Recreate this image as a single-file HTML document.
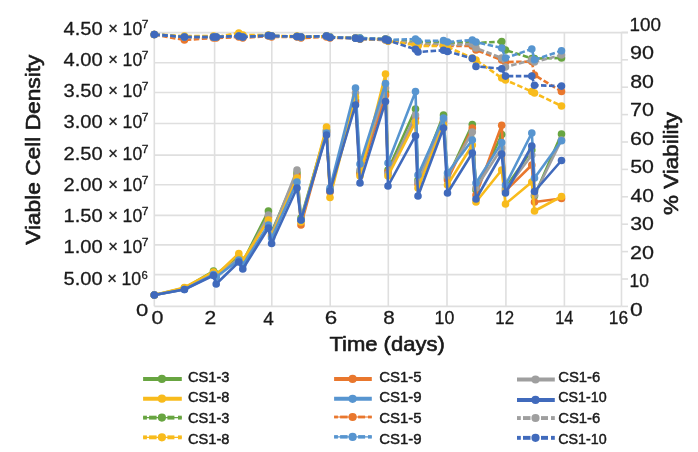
<!DOCTYPE html><html><head><meta charset="utf-8"><style>html,body{margin:0;padding:0;background:#fff;width:698px;height:452px;overflow:hidden}svg{display:block}</style></head><body>
<svg width="698" height="452" viewBox="0 0 698 452">
<rect width="698" height="452" fill="#fff"/>
<g stroke="#dfdfdf" stroke-width="1.6" fill="none">
<line x1="154.3" y1="32.6" x2="628" y2="32.6"/>
<line x1="154.3" y1="62.8" x2="621.5" y2="62.8"/>
<line x1="154.3" y1="92.5" x2="621.5" y2="92.5"/>
<line x1="154.3" y1="123.5" x2="621.5" y2="123.5"/>
<line x1="154.3" y1="155.1" x2="621.5" y2="155.1"/>
<line x1="154.3" y1="184.7" x2="621.5" y2="184.7"/>
<line x1="154.3" y1="215.4" x2="621.5" y2="215.4"/>
<line x1="154.3" y1="244.9" x2="621.5" y2="244.9"/>
<line x1="154.3" y1="274.6" x2="621.5" y2="274.6"/>
<line x1="154.3" y1="306.4" x2="621.5" y2="306.4"/>
<line x1="154.3" y1="32.5" x2="154.3" y2="306.3"/>
<line x1="214.6" y1="32.5" x2="214.6" y2="306.3"/>
<line x1="271.8" y1="32.5" x2="271.8" y2="306.3"/>
<line x1="330.2" y1="32.5" x2="330.2" y2="306.3"/>
<line x1="388.3" y1="32.5" x2="388.3" y2="306.3"/>
<line x1="447" y1="32.5" x2="447" y2="306.3"/>
<line x1="505.9" y1="32.5" x2="505.9" y2="306.3"/>
<line x1="564.4" y1="32.5" x2="564.4" y2="306.3"/>
<line x1="621.5" y1="32.5" x2="621.5" y2="306.3"/>
<line x1="621.5" y1="306.4" x2="628" y2="306.4" stroke="#dedede"/>
<line x1="621.5" y1="279" x2="628" y2="279" stroke="#dedede"/>
<line x1="621.5" y1="251.6" x2="628" y2="251.6" stroke="#dedede"/>
<line x1="621.5" y1="224.2" x2="628" y2="224.2" stroke="#dedede"/>
<line x1="621.5" y1="196.8" x2="628" y2="196.8" stroke="#dedede"/>
<line x1="621.5" y1="169.4" x2="628" y2="169.4" stroke="#dedede"/>
<line x1="621.5" y1="142" x2="628" y2="142" stroke="#dedede"/>
<line x1="621.5" y1="114.6" x2="628" y2="114.6" stroke="#dedede"/>
<line x1="621.5" y1="87.2" x2="628" y2="87.2" stroke="#dedede"/>
<line x1="621.5" y1="59.8" x2="628" y2="59.8" stroke="#dedede"/>
<line x1="621.5" y1="32.4" x2="628" y2="32.4" stroke="#dedede"/>
</g>
<polyline points="154.3,295 184.4,288 213.5,271 216.2,274 238.8,257 242.8,262 268.4,211 271.6,232 297,173 301,218 326.5,130 330,190 355.5,100 360,172 385.5,92 388,170 415.5,109 418,180 443.5,115 447.5,178 472.3,124.5 476,190 501.7,134.5 505.5,188 531.8,150 534.5,196 561.5,134" fill="none" stroke="#68A541" stroke-width="2.6" stroke-linejoin="round"/><g fill="#68A541"><circle cx="154.3" cy="295" r="3.8"/><circle cx="184.4" cy="288" r="3.8"/><circle cx="213.5" cy="271" r="3.8"/><circle cx="216.2" cy="274" r="3.8"/><circle cx="238.8" cy="257" r="3.8"/><circle cx="242.8" cy="262" r="3.8"/><circle cx="268.4" cy="211" r="3.8"/><circle cx="271.6" cy="232" r="3.8"/><circle cx="297" cy="173" r="3.8"/><circle cx="301" cy="218" r="3.8"/><circle cx="326.5" cy="130" r="3.8"/><circle cx="330" cy="190" r="3.8"/><circle cx="355.5" cy="100" r="3.8"/><circle cx="360" cy="172" r="3.8"/><circle cx="385.5" cy="92" r="3.8"/><circle cx="388" cy="170" r="3.8"/><circle cx="415.5" cy="109" r="3.8"/><circle cx="418" cy="180" r="3.8"/><circle cx="443.5" cy="115" r="3.8"/><circle cx="447.5" cy="178" r="3.8"/><circle cx="472.3" cy="124.5" r="3.8"/><circle cx="476" cy="190" r="3.8"/><circle cx="501.7" cy="134.5" r="3.8"/><circle cx="505.5" cy="188" r="3.8"/><circle cx="531.8" cy="150" r="3.8"/><circle cx="534.5" cy="196" r="3.8"/><circle cx="561.5" cy="134" r="3.8"/></g>
<polyline points="154.3,295 184.4,289 213.5,274 216.2,276 238.8,259 242.8,263 268.4,217 271.6,236 297,176 301,225 326.5,132 330,192 355.5,102 360,174 385.5,95 388,172 415.5,118 418,184 443.5,122 447.5,180 472.3,128 476,195 501.7,125.3 505.5,191 531.8,165 534.5,202 561.5,198.5" fill="none" stroke="#E9772D" stroke-width="2.6" stroke-linejoin="round"/><g fill="#E9772D"><circle cx="154.3" cy="295" r="3.8"/><circle cx="184.4" cy="289" r="3.8"/><circle cx="213.5" cy="274" r="3.8"/><circle cx="216.2" cy="276" r="3.8"/><circle cx="238.8" cy="259" r="3.8"/><circle cx="242.8" cy="263" r="3.8"/><circle cx="268.4" cy="217" r="3.8"/><circle cx="271.6" cy="236" r="3.8"/><circle cx="297" cy="176" r="3.8"/><circle cx="301" cy="225" r="3.8"/><circle cx="326.5" cy="132" r="3.8"/><circle cx="330" cy="192" r="3.8"/><circle cx="355.5" cy="102" r="3.8"/><circle cx="360" cy="174" r="3.8"/><circle cx="385.5" cy="95" r="3.8"/><circle cx="388" cy="172" r="3.8"/><circle cx="415.5" cy="118" r="3.8"/><circle cx="418" cy="184" r="3.8"/><circle cx="443.5" cy="122" r="3.8"/><circle cx="447.5" cy="180" r="3.8"/><circle cx="472.3" cy="128" r="3.8"/><circle cx="476" cy="195" r="3.8"/><circle cx="501.7" cy="125.3" r="3.8"/><circle cx="505.5" cy="191" r="3.8"/><circle cx="531.8" cy="165" r="3.8"/><circle cx="534.5" cy="202" r="3.8"/><circle cx="561.5" cy="198.5" r="3.8"/></g>
<polyline points="154.3,295 184.4,289 213.5,273 216.2,275 238.8,259 242.8,263 268.4,215 271.6,234 297,170 301,220 326.5,131 330,190 355.5,93 360,170 385.5,88 388,174 415.5,115 418,182 443.5,120 447.5,176 472.3,132 476,188 501.7,148 505.5,190 531.8,155 534.5,195 561.5,140" fill="none" stroke="#9F9F9F" stroke-width="2.6" stroke-linejoin="round"/><g fill="#9F9F9F"><circle cx="154.3" cy="295" r="3.8"/><circle cx="184.4" cy="289" r="3.8"/><circle cx="213.5" cy="273" r="3.8"/><circle cx="216.2" cy="275" r="3.8"/><circle cx="238.8" cy="259" r="3.8"/><circle cx="242.8" cy="263" r="3.8"/><circle cx="268.4" cy="215" r="3.8"/><circle cx="271.6" cy="234" r="3.8"/><circle cx="297" cy="170" r="3.8"/><circle cx="301" cy="220" r="3.8"/><circle cx="326.5" cy="131" r="3.8"/><circle cx="330" cy="190" r="3.8"/><circle cx="355.5" cy="93" r="3.8"/><circle cx="360" cy="170" r="3.8"/><circle cx="385.5" cy="88" r="3.8"/><circle cx="388" cy="174" r="3.8"/><circle cx="415.5" cy="115" r="3.8"/><circle cx="418" cy="182" r="3.8"/><circle cx="443.5" cy="120" r="3.8"/><circle cx="447.5" cy="176" r="3.8"/><circle cx="472.3" cy="132" r="3.8"/><circle cx="476" cy="188" r="3.8"/><circle cx="501.7" cy="148" r="3.8"/><circle cx="505.5" cy="190" r="3.8"/><circle cx="531.8" cy="155" r="3.8"/><circle cx="534.5" cy="195" r="3.8"/><circle cx="561.5" cy="140" r="3.8"/></g>
<polyline points="154.3,295 184.4,287.5 213.5,272 216.2,275 238.8,253.5 242.8,260 268.4,220 271.6,236 297,178 301,222 326.5,127 330,197.5 355.5,97 360,176 385.5,74 388,176 415.5,122 418,188 443.5,125 447.5,185 472.3,145 476,202 501.7,170 505.5,204 531.8,182 534.5,211 561.5,196.5" fill="none" stroke="#F8BB1C" stroke-width="2.6" stroke-linejoin="round"/><g fill="#F8BB1C"><circle cx="154.3" cy="295" r="3.8"/><circle cx="184.4" cy="287.5" r="3.8"/><circle cx="213.5" cy="272" r="3.8"/><circle cx="216.2" cy="275" r="3.8"/><circle cx="238.8" cy="253.5" r="3.8"/><circle cx="242.8" cy="260" r="3.8"/><circle cx="268.4" cy="220" r="3.8"/><circle cx="271.6" cy="236" r="3.8"/><circle cx="297" cy="178" r="3.8"/><circle cx="301" cy="222" r="3.8"/><circle cx="326.5" cy="127" r="3.8"/><circle cx="330" cy="197.5" r="3.8"/><circle cx="355.5" cy="97" r="3.8"/><circle cx="360" cy="176" r="3.8"/><circle cx="385.5" cy="74" r="3.8"/><circle cx="388" cy="176" r="3.8"/><circle cx="415.5" cy="122" r="3.8"/><circle cx="418" cy="188" r="3.8"/><circle cx="443.5" cy="125" r="3.8"/><circle cx="447.5" cy="185" r="3.8"/><circle cx="472.3" cy="145" r="3.8"/><circle cx="476" cy="202" r="3.8"/><circle cx="501.7" cy="170" r="3.8"/><circle cx="505.5" cy="204" r="3.8"/><circle cx="531.8" cy="182" r="3.8"/><circle cx="534.5" cy="211" r="3.8"/><circle cx="561.5" cy="196.5" r="3.8"/></g>
<polyline points="154.3,295 184.4,289.5 213.5,274.5 216.2,277 238.8,260 242.8,265 268.4,225 271.6,238 297,182 301,220 326.5,133 330,188 355.5,88 360,164 385.5,83.5 388,163 415.5,91.6 418,175 443.5,118 447.5,173 472.3,140 476,183 501.7,142.6 505.5,185 531.8,133 534.5,178 561.5,140.8" fill="none" stroke="#5795D0" stroke-width="2.6" stroke-linejoin="round"/><g fill="#5795D0"><circle cx="154.3" cy="295" r="3.8"/><circle cx="184.4" cy="289.5" r="3.8"/><circle cx="213.5" cy="274.5" r="3.8"/><circle cx="216.2" cy="277" r="3.8"/><circle cx="238.8" cy="260" r="3.8"/><circle cx="242.8" cy="265" r="3.8"/><circle cx="268.4" cy="225" r="3.8"/><circle cx="271.6" cy="238" r="3.8"/><circle cx="297" cy="182" r="3.8"/><circle cx="301" cy="220" r="3.8"/><circle cx="326.5" cy="133" r="3.8"/><circle cx="330" cy="188" r="3.8"/><circle cx="355.5" cy="88" r="3.8"/><circle cx="360" cy="164" r="3.8"/><circle cx="385.5" cy="83.5" r="3.8"/><circle cx="388" cy="163" r="3.8"/><circle cx="415.5" cy="91.6" r="3.8"/><circle cx="418" cy="175" r="3.8"/><circle cx="443.5" cy="118" r="3.8"/><circle cx="447.5" cy="173" r="3.8"/><circle cx="472.3" cy="140" r="3.8"/><circle cx="476" cy="183" r="3.8"/><circle cx="501.7" cy="142.6" r="3.8"/><circle cx="505.5" cy="185" r="3.8"/><circle cx="531.8" cy="133" r="3.8"/><circle cx="534.5" cy="178" r="3.8"/><circle cx="561.5" cy="140.8" r="3.8"/></g>
<polyline points="154.3,295 184.4,289.5 213.5,275.5 216.2,284 238.8,262 242.8,269 268.4,228 271.6,243.5 297,188 301,220 326.5,135 330,191 355.5,105 360,183 385.5,101.5 388,186 415.5,135.7 418,196 443.5,128 447.5,193 472.3,153 476,199 501.7,154 505.5,193 531.8,146 534.5,191.5 561.5,160.5" fill="none" stroke="#406ABC" stroke-width="2.6" stroke-linejoin="round"/><g fill="#406ABC"><circle cx="154.3" cy="295" r="3.8"/><circle cx="184.4" cy="289.5" r="3.8"/><circle cx="213.5" cy="275.5" r="3.8"/><circle cx="216.2" cy="284" r="3.8"/><circle cx="238.8" cy="262" r="3.8"/><circle cx="242.8" cy="269" r="3.8"/><circle cx="268.4" cy="228" r="3.8"/><circle cx="271.6" cy="243.5" r="3.8"/><circle cx="297" cy="188" r="3.8"/><circle cx="301" cy="220" r="3.8"/><circle cx="326.5" cy="135" r="3.8"/><circle cx="330" cy="191" r="3.8"/><circle cx="355.5" cy="105" r="3.8"/><circle cx="360" cy="183" r="3.8"/><circle cx="385.5" cy="101.5" r="3.8"/><circle cx="388" cy="186" r="3.8"/><circle cx="415.5" cy="135.7" r="3.8"/><circle cx="418" cy="196" r="3.8"/><circle cx="443.5" cy="128" r="3.8"/><circle cx="447.5" cy="193" r="3.8"/><circle cx="472.3" cy="153" r="3.8"/><circle cx="476" cy="199" r="3.8"/><circle cx="501.7" cy="154" r="3.8"/><circle cx="505.5" cy="193" r="3.8"/><circle cx="531.8" cy="146" r="3.8"/><circle cx="534.5" cy="191.5" r="3.8"/><circle cx="561.5" cy="160.5" r="3.8"/></g>
<polyline points="154.3,34.5 184.4,37 213.5,37 216.2,37 238.8,36 242.8,37 268.4,35.5 271.6,36 297,36.5 301,37 326.5,36 330,37 355.5,38 360,38 385.5,39 388,40 415.5,42 418,42 443.5,42 447.5,43 472.3,42 476,43 501.7,41.6 505.5,50 531.8,58.5 534.5,58.5 561.5,58" fill="none" stroke="#68A541" stroke-width="2.6" stroke-linejoin="round" stroke-dasharray="5.5 2.5"/><g fill="#68A541"><circle cx="154.3" cy="34.5" r="3.8"/><circle cx="184.4" cy="37" r="3.8"/><circle cx="213.5" cy="37" r="3.8"/><circle cx="216.2" cy="37" r="3.8"/><circle cx="238.8" cy="36" r="3.8"/><circle cx="242.8" cy="37" r="3.8"/><circle cx="268.4" cy="35.5" r="3.8"/><circle cx="271.6" cy="36" r="3.8"/><circle cx="297" cy="36.5" r="3.8"/><circle cx="301" cy="37" r="3.8"/><circle cx="326.5" cy="36" r="3.8"/><circle cx="330" cy="37" r="3.8"/><circle cx="355.5" cy="38" r="3.8"/><circle cx="360" cy="38" r="3.8"/><circle cx="385.5" cy="39" r="3.8"/><circle cx="388" cy="40" r="3.8"/><circle cx="415.5" cy="42" r="3.8"/><circle cx="418" cy="42" r="3.8"/><circle cx="443.5" cy="42" r="3.8"/><circle cx="447.5" cy="43" r="3.8"/><circle cx="472.3" cy="42" r="3.8"/><circle cx="476" cy="43" r="3.8"/><circle cx="501.7" cy="41.6" r="3.8"/><circle cx="505.5" cy="50" r="3.8"/><circle cx="531.8" cy="58.5" r="3.8"/><circle cx="534.5" cy="58.5" r="3.8"/><circle cx="561.5" cy="58" r="3.8"/></g>
<polyline points="154.3,34.5 184.4,40 213.5,38 216.2,38 238.8,37 242.8,38 268.4,36 271.6,37 297,37 301,38 326.5,37 330,38 355.5,38 360,39 385.5,40 388,41 415.5,44 418,45 443.5,45 447.5,46 472.3,46 476,50 501.7,60 505.5,62 531.8,61.6 534.5,75 561.5,91.5" fill="none" stroke="#E9772D" stroke-width="2.6" stroke-linejoin="round" stroke-dasharray="5.5 2.5"/><g fill="#E9772D"><circle cx="154.3" cy="34.5" r="3.8"/><circle cx="184.4" cy="40" r="3.8"/><circle cx="213.5" cy="38" r="3.8"/><circle cx="216.2" cy="38" r="3.8"/><circle cx="238.8" cy="37" r="3.8"/><circle cx="242.8" cy="38" r="3.8"/><circle cx="268.4" cy="36" r="3.8"/><circle cx="271.6" cy="37" r="3.8"/><circle cx="297" cy="37" r="3.8"/><circle cx="301" cy="38" r="3.8"/><circle cx="326.5" cy="37" r="3.8"/><circle cx="330" cy="38" r="3.8"/><circle cx="355.5" cy="38" r="3.8"/><circle cx="360" cy="39" r="3.8"/><circle cx="385.5" cy="40" r="3.8"/><circle cx="388" cy="41" r="3.8"/><circle cx="415.5" cy="44" r="3.8"/><circle cx="418" cy="45" r="3.8"/><circle cx="443.5" cy="45" r="3.8"/><circle cx="447.5" cy="46" r="3.8"/><circle cx="472.3" cy="46" r="3.8"/><circle cx="476" cy="50" r="3.8"/><circle cx="501.7" cy="60" r="3.8"/><circle cx="505.5" cy="62" r="3.8"/><circle cx="531.8" cy="61.6" r="3.8"/><circle cx="534.5" cy="75" r="3.8"/><circle cx="561.5" cy="91.5" r="3.8"/></g>
<polyline points="154.3,34.5 184.4,37 213.5,37 216.2,37 238.8,35 242.8,36 268.4,35.5 271.6,36 297,36.5 301,37 326.5,36 330,37 355.5,38 360,39 385.5,40 388,41 415.5,43 418,44 443.5,44 447.5,45 472.3,44 476,48 501.7,58 505.5,67 531.8,60 534.5,62 561.5,55" fill="none" stroke="#9F9F9F" stroke-width="2.6" stroke-linejoin="round" stroke-dasharray="5.5 2.5"/><g fill="#9F9F9F"><circle cx="154.3" cy="34.5" r="3.8"/><circle cx="184.4" cy="37" r="3.8"/><circle cx="213.5" cy="37" r="3.8"/><circle cx="216.2" cy="37" r="3.8"/><circle cx="238.8" cy="35" r="3.8"/><circle cx="242.8" cy="36" r="3.8"/><circle cx="268.4" cy="35.5" r="3.8"/><circle cx="271.6" cy="36" r="3.8"/><circle cx="297" cy="36.5" r="3.8"/><circle cx="301" cy="37" r="3.8"/><circle cx="326.5" cy="36" r="3.8"/><circle cx="330" cy="37" r="3.8"/><circle cx="355.5" cy="38" r="3.8"/><circle cx="360" cy="39" r="3.8"/><circle cx="385.5" cy="40" r="3.8"/><circle cx="388" cy="41" r="3.8"/><circle cx="415.5" cy="43" r="3.8"/><circle cx="418" cy="44" r="3.8"/><circle cx="443.5" cy="44" r="3.8"/><circle cx="447.5" cy="45" r="3.8"/><circle cx="472.3" cy="44" r="3.8"/><circle cx="476" cy="48" r="3.8"/><circle cx="501.7" cy="58" r="3.8"/><circle cx="505.5" cy="67" r="3.8"/><circle cx="531.8" cy="60" r="3.8"/><circle cx="534.5" cy="62" r="3.8"/><circle cx="561.5" cy="55" r="3.8"/></g>
<polyline points="154.3,34.5 184.4,36 213.5,36 216.2,37 238.8,33 242.8,35 268.4,35 271.6,36 297,36 301,37 326.5,36 330,37 355.5,38 360,39 385.5,39 388,41 415.5,45 418,46 443.5,46 447.5,47 472.3,58 476,60 501.7,78 505.5,80 531.8,91.5 534.5,93 561.5,106" fill="none" stroke="#F8BB1C" stroke-width="2.6" stroke-linejoin="round" stroke-dasharray="5.5 2.5"/><g fill="#F8BB1C"><circle cx="154.3" cy="34.5" r="3.8"/><circle cx="184.4" cy="36" r="3.8"/><circle cx="213.5" cy="36" r="3.8"/><circle cx="216.2" cy="37" r="3.8"/><circle cx="238.8" cy="33" r="3.8"/><circle cx="242.8" cy="35" r="3.8"/><circle cx="268.4" cy="35" r="3.8"/><circle cx="271.6" cy="36" r="3.8"/><circle cx="297" cy="36" r="3.8"/><circle cx="301" cy="37" r="3.8"/><circle cx="326.5" cy="36" r="3.8"/><circle cx="330" cy="37" r="3.8"/><circle cx="355.5" cy="38" r="3.8"/><circle cx="360" cy="39" r="3.8"/><circle cx="385.5" cy="39" r="3.8"/><circle cx="388" cy="41" r="3.8"/><circle cx="415.5" cy="45" r="3.8"/><circle cx="418" cy="46" r="3.8"/><circle cx="443.5" cy="46" r="3.8"/><circle cx="447.5" cy="47" r="3.8"/><circle cx="472.3" cy="58" r="3.8"/><circle cx="476" cy="60" r="3.8"/><circle cx="501.7" cy="78" r="3.8"/><circle cx="505.5" cy="80" r="3.8"/><circle cx="531.8" cy="91.5" r="3.8"/><circle cx="534.5" cy="93" r="3.8"/><circle cx="561.5" cy="106" r="3.8"/></g>
<polyline points="154.3,34.5 184.4,37 213.5,37 216.2,37 238.8,36 242.8,37 268.4,35.5 271.6,36 297,36.5 301,37 326.5,36 330,37 355.5,38 360,38 385.5,39 388,40 415.5,39 418,41 443.5,40.6 447.5,42 472.3,40 476,42 501.7,48 505.5,58 531.8,49 534.5,59.8 561.5,50.7" fill="none" stroke="#5795D0" stroke-width="2.6" stroke-linejoin="round" stroke-dasharray="5.5 2.5"/><g fill="#5795D0"><circle cx="154.3" cy="34.5" r="3.8"/><circle cx="184.4" cy="37" r="3.8"/><circle cx="213.5" cy="37" r="3.8"/><circle cx="216.2" cy="37" r="3.8"/><circle cx="238.8" cy="36" r="3.8"/><circle cx="242.8" cy="37" r="3.8"/><circle cx="268.4" cy="35.5" r="3.8"/><circle cx="271.6" cy="36" r="3.8"/><circle cx="297" cy="36.5" r="3.8"/><circle cx="301" cy="37" r="3.8"/><circle cx="326.5" cy="36" r="3.8"/><circle cx="330" cy="37" r="3.8"/><circle cx="355.5" cy="38" r="3.8"/><circle cx="360" cy="38" r="3.8"/><circle cx="385.5" cy="39" r="3.8"/><circle cx="388" cy="40" r="3.8"/><circle cx="415.5" cy="39" r="3.8"/><circle cx="418" cy="41" r="3.8"/><circle cx="443.5" cy="40.6" r="3.8"/><circle cx="447.5" cy="42" r="3.8"/><circle cx="472.3" cy="40" r="3.8"/><circle cx="476" cy="42" r="3.8"/><circle cx="501.7" cy="48" r="3.8"/><circle cx="505.5" cy="58" r="3.8"/><circle cx="531.8" cy="49" r="3.8"/><circle cx="534.5" cy="59.8" r="3.8"/><circle cx="561.5" cy="50.7" r="3.8"/></g>
<polyline points="154.3,34.5 184.4,37 213.5,37 216.2,37 238.8,36 242.8,37 268.4,35.5 271.6,36 297,36.5 301,37 326.5,36 330,37.5 355.5,38.3 360,39 385.5,39.2 388,40.5 415.5,49.2 418,52 443.5,50.3 447.5,51.5 472.3,58.4 476,66.4 501.7,68.8 505.5,76.1 531.8,76.1 534.5,85.2 561.5,86.1" fill="none" stroke="#406ABC" stroke-width="2.6" stroke-linejoin="round" stroke-dasharray="5.5 2.5"/><g fill="#406ABC"><circle cx="154.3" cy="34.5" r="3.8"/><circle cx="184.4" cy="37" r="3.8"/><circle cx="213.5" cy="37" r="3.8"/><circle cx="216.2" cy="37" r="3.8"/><circle cx="238.8" cy="36" r="3.8"/><circle cx="242.8" cy="37" r="3.8"/><circle cx="268.4" cy="35.5" r="3.8"/><circle cx="271.6" cy="36" r="3.8"/><circle cx="297" cy="36.5" r="3.8"/><circle cx="301" cy="37" r="3.8"/><circle cx="326.5" cy="36" r="3.8"/><circle cx="330" cy="37.5" r="3.8"/><circle cx="355.5" cy="38.3" r="3.8"/><circle cx="360" cy="39" r="3.8"/><circle cx="385.5" cy="39.2" r="3.8"/><circle cx="388" cy="40.5" r="3.8"/><circle cx="415.5" cy="49.2" r="3.8"/><circle cx="418" cy="52" r="3.8"/><circle cx="443.5" cy="50.3" r="3.8"/><circle cx="447.5" cy="51.5" r="3.8"/><circle cx="472.3" cy="58.4" r="3.8"/><circle cx="476" cy="66.4" r="3.8"/><circle cx="501.7" cy="68.8" r="3.8"/><circle cx="505.5" cy="76.1" r="3.8"/><circle cx="531.8" cy="76.1" r="3.8"/><circle cx="534.5" cy="85.2" r="3.8"/><circle cx="561.5" cy="86.1" r="3.8"/></g>
<g font-family="'Liberation Sans', Arial, sans-serif" fill="#1a1a1a">
<text transform="matrix(0.2011 0 0 0.1831 63.60 34.72)" font-size="100" stroke="#1a1a1a" stroke-width="1.56" stroke-linejoin="round">4.50</text>
<text transform="matrix(0.1659 0 0 0.1636 108.34 33.70)" font-size="100" stroke="#1a1a1a" stroke-width="1.82" stroke-linejoin="round">×</text>
<text transform="matrix(0.1768 0 0 0.1901 122.59 34.71)" font-size="100" stroke="#1a1a1a" stroke-width="1.64" stroke-linejoin="round">10</text>
<text transform="matrix(0.1217 0 0 0.1103 141.69 27.71)" font-size="100" stroke="#1a1a1a" stroke-width="2.59" stroke-linejoin="round">7</text>
<text transform="matrix(0.2011 0 0 0.1831 63.60 65.95)" font-size="100" stroke="#1a1a1a" stroke-width="1.56" stroke-linejoin="round">4.00</text>
<text transform="matrix(0.1659 0 0 0.1636 108.34 64.93)" font-size="100" stroke="#1a1a1a" stroke-width="1.82" stroke-linejoin="round">×</text>
<text transform="matrix(0.1768 0 0 0.1901 122.59 65.94)" font-size="100" stroke="#1a1a1a" stroke-width="1.64" stroke-linejoin="round">10</text>
<text transform="matrix(0.1217 0 0 0.1103 141.69 58.94)" font-size="100" stroke="#1a1a1a" stroke-width="2.59" stroke-linejoin="round">7</text>
<text transform="matrix(0.2011 0 0 0.1831 63.60 97.18)" font-size="100" stroke="#1a1a1a" stroke-width="1.56" stroke-linejoin="round">3.50</text>
<text transform="matrix(0.1659 0 0 0.1636 108.34 96.16)" font-size="100" stroke="#1a1a1a" stroke-width="1.82" stroke-linejoin="round">×</text>
<text transform="matrix(0.1768 0 0 0.1901 122.59 97.17)" font-size="100" stroke="#1a1a1a" stroke-width="1.64" stroke-linejoin="round">10</text>
<text transform="matrix(0.1217 0 0 0.1103 141.69 90.17)" font-size="100" stroke="#1a1a1a" stroke-width="2.59" stroke-linejoin="round">7</text>
<text transform="matrix(0.2011 0 0 0.1831 63.60 128.41)" font-size="100" stroke="#1a1a1a" stroke-width="1.56" stroke-linejoin="round">3.00</text>
<text transform="matrix(0.1659 0 0 0.1636 108.34 127.39)" font-size="100" stroke="#1a1a1a" stroke-width="1.82" stroke-linejoin="round">×</text>
<text transform="matrix(0.1768 0 0 0.1901 122.59 128.40)" font-size="100" stroke="#1a1a1a" stroke-width="1.64" stroke-linejoin="round">10</text>
<text transform="matrix(0.1217 0 0 0.1103 141.69 121.40)" font-size="100" stroke="#1a1a1a" stroke-width="2.59" stroke-linejoin="round">7</text>
<text transform="matrix(0.2011 0 0 0.1831 63.60 159.64)" font-size="100" stroke="#1a1a1a" stroke-width="1.56" stroke-linejoin="round">2.50</text>
<text transform="matrix(0.1659 0 0 0.1636 108.34 158.62)" font-size="100" stroke="#1a1a1a" stroke-width="1.82" stroke-linejoin="round">×</text>
<text transform="matrix(0.1768 0 0 0.1901 122.59 159.63)" font-size="100" stroke="#1a1a1a" stroke-width="1.64" stroke-linejoin="round">10</text>
<text transform="matrix(0.1217 0 0 0.1103 141.69 152.63)" font-size="100" stroke="#1a1a1a" stroke-width="2.59" stroke-linejoin="round">7</text>
<text transform="matrix(0.2011 0 0 0.1831 63.60 190.87)" font-size="100" stroke="#1a1a1a" stroke-width="1.56" stroke-linejoin="round">2.00</text>
<text transform="matrix(0.1659 0 0 0.1636 108.34 189.85)" font-size="100" stroke="#1a1a1a" stroke-width="1.82" stroke-linejoin="round">×</text>
<text transform="matrix(0.1768 0 0 0.1901 122.59 190.86)" font-size="100" stroke="#1a1a1a" stroke-width="1.64" stroke-linejoin="round">10</text>
<text transform="matrix(0.1217 0 0 0.1103 141.69 183.86)" font-size="100" stroke="#1a1a1a" stroke-width="2.59" stroke-linejoin="round">7</text>
<text transform="matrix(0.2011 0 0 0.1831 63.60 222.10)" font-size="100" stroke="#1a1a1a" stroke-width="1.56" stroke-linejoin="round">1.50</text>
<text transform="matrix(0.1659 0 0 0.1636 108.34 221.08)" font-size="100" stroke="#1a1a1a" stroke-width="1.82" stroke-linejoin="round">×</text>
<text transform="matrix(0.1768 0 0 0.1901 122.59 222.09)" font-size="100" stroke="#1a1a1a" stroke-width="1.64" stroke-linejoin="round">10</text>
<text transform="matrix(0.1217 0 0 0.1103 141.69 215.09)" font-size="100" stroke="#1a1a1a" stroke-width="2.59" stroke-linejoin="round">7</text>
<text transform="matrix(0.2011 0 0 0.1831 63.60 253.33)" font-size="100" stroke="#1a1a1a" stroke-width="1.56" stroke-linejoin="round">1.00</text>
<text transform="matrix(0.1659 0 0 0.1636 108.34 252.31)" font-size="100" stroke="#1a1a1a" stroke-width="1.82" stroke-linejoin="round">×</text>
<text transform="matrix(0.1768 0 0 0.1901 122.59 253.32)" font-size="100" stroke="#1a1a1a" stroke-width="1.64" stroke-linejoin="round">10</text>
<text transform="matrix(0.1217 0 0 0.1103 141.69 246.32)" font-size="100" stroke="#1a1a1a" stroke-width="2.59" stroke-linejoin="round">7</text>
<text transform="matrix(0.2011 0 0 0.1831 63.60 284.56)" font-size="100" stroke="#1a1a1a" stroke-width="1.56" stroke-linejoin="round">5.00</text>
<text transform="matrix(0.1659 0 0 0.1636 107.14 283.54)" font-size="100" stroke="#1a1a1a" stroke-width="1.82" stroke-linejoin="round">×</text>
<text transform="matrix(0.1768 0 0 0.1901 121.39 284.55)" font-size="100" stroke="#1a1a1a" stroke-width="1.64" stroke-linejoin="round">10</text>
<text transform="matrix(0.1130 0 0 0.1099 141.53 278.63)" font-size="100" stroke="#1a1a1a" stroke-width="2.69" stroke-linejoin="round">6</text>
<text transform="matrix(0.2208 0 0 0.1732 136.12 315.83)" font-size="100" stroke="#1a1a1a" stroke-width="1.52" stroke-linejoin="round">0</text>
<text transform="matrix(0.1884 0 0 0.1915 629.49 30.71)" font-size="100" stroke="#1a1a1a" stroke-width="1.58" stroke-linejoin="round">100</text>
<text transform="matrix(0.2157 0 0 0.1915 629.92 59.20)" font-size="100" stroke="#1a1a1a" stroke-width="1.47" stroke-linejoin="round">90</text>
<text transform="matrix(0.2136 0 0 0.1915 630.15 87.69)" font-size="100" stroke="#1a1a1a" stroke-width="1.48" stroke-linejoin="round">80</text>
<text transform="matrix(0.2157 0 0 0.1915 629.92 116.18)" font-size="100" stroke="#1a1a1a" stroke-width="1.47" stroke-linejoin="round">70</text>
<text transform="matrix(0.2157 0 0 0.1915 629.92 144.67)" font-size="100" stroke="#1a1a1a" stroke-width="1.47" stroke-linejoin="round">60</text>
<text transform="matrix(0.2136 0 0 0.1915 630.15 173.16)" font-size="100" stroke="#1a1a1a" stroke-width="1.48" stroke-linejoin="round">50</text>
<text transform="matrix(0.2095 0 0 0.1915 630.58 201.65)" font-size="100" stroke="#1a1a1a" stroke-width="1.50" stroke-linejoin="round">40</text>
<text transform="matrix(0.2136 0 0 0.1915 630.15 230.14)" font-size="100" stroke="#1a1a1a" stroke-width="1.48" stroke-linejoin="round">30</text>
<text transform="matrix(0.2157 0 0 0.1915 629.92 258.63)" font-size="100" stroke="#1a1a1a" stroke-width="1.47" stroke-linejoin="round">20</text>
<text transform="matrix(0.1747 0 0 0.1915 629.60 287.12)" font-size="100" stroke="#1a1a1a" stroke-width="1.64" stroke-linejoin="round">10</text>
<text transform="matrix(0.2292 0 0 0.1915 630.08 315.61)" font-size="100" stroke="#1a1a1a" stroke-width="1.43" stroke-linejoin="round">0</text>
<text transform="matrix(0.2146 0 0 0.1817 151.49 324.22)" font-size="100" stroke="#1a1a1a" stroke-width="1.51" stroke-linejoin="round">0</text>
<text transform="matrix(0.2109 0 0 0.1843 204.60 324.40)" font-size="100" stroke="#1a1a1a" stroke-width="1.52" stroke-linejoin="round">2</text>
<text transform="matrix(0.1902 0 0 0.1897 263.27 324.59)" font-size="100" stroke="#1a1a1a" stroke-width="1.58" stroke-linejoin="round">4</text>
<text transform="matrix(0.2239 0 0 0.1817 324.63 324.22)" font-size="100" stroke="#1a1a1a" stroke-width="1.48" stroke-linejoin="round">6</text>
<text transform="matrix(0.2064 0 0 0.1817 383.32 324.22)" font-size="100" stroke="#1a1a1a" stroke-width="1.55" stroke-linejoin="round">8</text>
<text transform="matrix(0.1778 0 0 0.1817 434.58 324.22)" font-size="100" stroke="#1a1a1a" stroke-width="1.67" stroke-linejoin="round">10</text>
<text transform="matrix(0.1684 0 0 0.1843 495.30 324.40)" font-size="100" stroke="#1a1a1a" stroke-width="1.70" stroke-linejoin="round">12</text>
<text transform="matrix(0.1640 0 0 0.1870 555.19 324.40)" font-size="100" stroke="#1a1a1a" stroke-width="1.71" stroke-linejoin="round">14</text>
<text transform="matrix(0.1737 0 0 0.1817 608.81 324.22)" font-size="100" stroke="#1a1a1a" stroke-width="1.69" stroke-linejoin="round">16</text>
<text transform="matrix(0.2203 0 0 0.2104 329.38 351.37)" font-size="100" stroke="#1a1a1a" stroke-width="3" stroke-linejoin="round">Time (days)</text>
<text transform="matrix(0 -0.2273 0.2073 0 40.04 244.87)" font-size="100" stroke="#1a1a1a" stroke-width="3" stroke-linejoin="round">Viable Cell Density</text>
<text transform="matrix(0 -0.2244 0.2083 0 678.42 214.95)" font-size="100" stroke="#1a1a1a" stroke-width="3" stroke-linejoin="round">% Viability</text>
</g>
<line x1="143.1" y1="378.9" x2="181.8" y2="378.9" stroke="#68A541" stroke-width="4"/>
<circle cx="161.9" cy="378.9" r="4.1" fill="#68A541"/>
<text font-family="'Liberation Sans', Arial, sans-serif" fill="#1a1a1a" transform="matrix(0.1464 0 0 0.1528 187.97 381.75)" font-size="100" stroke="#1a1a1a" stroke-width="3.01" stroke-linejoin="round">CS1-3</text>
<line x1="334.1" y1="378.9" x2="371.8" y2="378.9" stroke="#E9772D" stroke-width="4"/>
<circle cx="352.6" cy="378.9" r="4.1" fill="#E9772D"/>
<text font-family="'Liberation Sans', Arial, sans-serif" fill="#1a1a1a" transform="matrix(0.1500 0 0 0.1528 379.15 381.75)" font-size="100" stroke="#1a1a1a" stroke-width="2.97" stroke-linejoin="round">CS1-5</text>
<line x1="517" y1="379.5" x2="554.8" y2="379.5" stroke="#9F9F9F" stroke-width="4"/>
<circle cx="535.5" cy="379.5" r="4.1" fill="#9F9F9F"/>
<text font-family="'Liberation Sans', Arial, sans-serif" fill="#1a1a1a" transform="matrix(0.1485 0 0 0.1528 558.26 381.75)" font-size="100" stroke="#1a1a1a" stroke-width="2.99" stroke-linejoin="round">CS1-6</text>
<line x1="143.1" y1="398.7" x2="181.8" y2="398.7" stroke="#F8BB1C" stroke-width="4"/>
<circle cx="161.9" cy="398.7" r="4.1" fill="#F8BB1C"/>
<text font-family="'Liberation Sans', Arial, sans-serif" fill="#1a1a1a" transform="matrix(0.1464 0 0 0.1528 187.97 402.40)" font-size="100" stroke="#1a1a1a" stroke-width="3.01" stroke-linejoin="round">CS1-8</text>
<line x1="334.1" y1="398.8" x2="371.8" y2="398.8" stroke="#5795D0" stroke-width="4"/>
<circle cx="352.6" cy="398.8" r="4.1" fill="#5795D0"/>
<text font-family="'Liberation Sans', Arial, sans-serif" fill="#1a1a1a" transform="matrix(0.1500 0 0 0.1528 379.15 402.40)" font-size="100" stroke="#1a1a1a" stroke-width="2.97" stroke-linejoin="round">CS1-9</text>
<line x1="517" y1="399.9" x2="554.8" y2="399.9" stroke="#406ABC" stroke-width="4"/>
<circle cx="535.5" cy="399.9" r="4.1" fill="#406ABC"/>
<text font-family="'Liberation Sans', Arial, sans-serif" fill="#1a1a1a" transform="matrix(0.1430 0 0 0.1528 558.28 402.40)" font-size="100" stroke="#1a1a1a" stroke-width="3.04" stroke-linejoin="round">CS1-10</text>
<line x1="143.1" y1="417.6" x2="181.8" y2="417.6" stroke="#68A541" stroke-width="1.2"/>
<rect x="143.1" y="415.7" width="3.8" height="3.9" fill="#68A541"/>
<rect x="149.1" y="415.7" width="7.5" height="3.9" fill="#68A541"/>
<rect x="167.4" y="415.7" width="7" height="3.9" fill="#68A541"/>
<rect x="178" y="415.7" width="3.8" height="3.9" fill="#68A541"/>
<circle cx="161.9" cy="417.6" r="4.1" fill="#68A541"/>
<text font-family="'Liberation Sans', Arial, sans-serif" fill="#1a1a1a" transform="matrix(0.1464 0 0 0.1528 187.97 422.70)" font-size="100" stroke="#1a1a1a" stroke-width="3.01" stroke-linejoin="round">CS1-3</text>
<line x1="334.1" y1="417" x2="371.8" y2="417" stroke="#E9772D" stroke-width="1.2"/>
<rect x="334.1" y="415.6" width="3.8" height="2.8" fill="#E9772D"/>
<rect x="340.1" y="415.6" width="7.5" height="2.8" fill="#E9772D"/>
<rect x="358.1" y="415.6" width="7" height="2.8" fill="#E9772D"/>
<rect x="368" y="415.6" width="3.8" height="2.8" fill="#E9772D"/>
<circle cx="352.6" cy="417" r="4.1" fill="#E9772D"/>
<text font-family="'Liberation Sans', Arial, sans-serif" fill="#1a1a1a" transform="matrix(0.1500 0 0 0.1528 379.15 422.70)" font-size="100" stroke="#1a1a1a" stroke-width="2.97" stroke-linejoin="round">CS1-5</text>
<rect x="517" y="416.1" width="3.8" height="3.9" fill="#9F9F9F"/>
<rect x="523" y="416.1" width="7.5" height="3.9" fill="#9F9F9F"/>
<rect x="541" y="416.1" width="7" height="3.9" fill="#9F9F9F"/>
<rect x="551" y="416.1" width="3.8" height="3.9" fill="#9F9F9F"/>
<circle cx="535.5" cy="418" r="4.1" fill="#9F9F9F"/>
<text font-family="'Liberation Sans', Arial, sans-serif" fill="#1a1a1a" transform="matrix(0.1485 0 0 0.1528 558.26 422.70)" font-size="100" stroke="#1a1a1a" stroke-width="2.99" stroke-linejoin="round">CS1-6</text>
<line x1="143.1" y1="437.3" x2="181.8" y2="437.3" stroke="#F8BB1C" stroke-width="1.2"/>
<rect x="143.1" y="435.4" width="3.8" height="3.9" fill="#F8BB1C"/>
<rect x="149.1" y="435.4" width="7.5" height="3.9" fill="#F8BB1C"/>
<rect x="167.4" y="435.4" width="7" height="3.9" fill="#F8BB1C"/>
<rect x="178" y="435.4" width="3.8" height="3.9" fill="#F8BB1C"/>
<circle cx="161.9" cy="437.3" r="4.1" fill="#F8BB1C"/>
<text font-family="'Liberation Sans', Arial, sans-serif" fill="#1a1a1a" transform="matrix(0.1464 0 0 0.1528 187.97 443.60)" font-size="100" stroke="#1a1a1a" stroke-width="3.01" stroke-linejoin="round">CS1-8</text>
<line x1="334.1" y1="436.9" x2="371.8" y2="436.9" stroke="#5795D0" stroke-width="1.2"/>
<rect x="334.1" y="435.1" width="3.8" height="3.5" fill="#5795D0"/>
<rect x="340.1" y="435.1" width="7.5" height="3.5" fill="#5795D0"/>
<rect x="358.1" y="435.1" width="7" height="3.5" fill="#5795D0"/>
<rect x="368" y="435.1" width="3.8" height="3.5" fill="#5795D0"/>
<circle cx="352.6" cy="436.9" r="4.1" fill="#5795D0"/>
<text font-family="'Liberation Sans', Arial, sans-serif" fill="#1a1a1a" transform="matrix(0.1500 0 0 0.1528 379.15 443.60)" font-size="100" stroke="#1a1a1a" stroke-width="2.97" stroke-linejoin="round">CS1-9</text>
<rect x="517" y="435.9" width="3.8" height="3.9" fill="#406ABC"/>
<rect x="523" y="435.9" width="7.5" height="3.9" fill="#406ABC"/>
<rect x="541" y="435.9" width="7" height="3.9" fill="#406ABC"/>
<rect x="551" y="435.9" width="3.8" height="3.9" fill="#406ABC"/>
<circle cx="535.5" cy="437.8" r="4.1" fill="#406ABC"/>
<text font-family="'Liberation Sans', Arial, sans-serif" fill="#1a1a1a" transform="matrix(0.1430 0 0 0.1528 558.28 443.60)" font-size="100" stroke="#1a1a1a" stroke-width="3.04" stroke-linejoin="round">CS1-10</text>
</svg></body></html>
